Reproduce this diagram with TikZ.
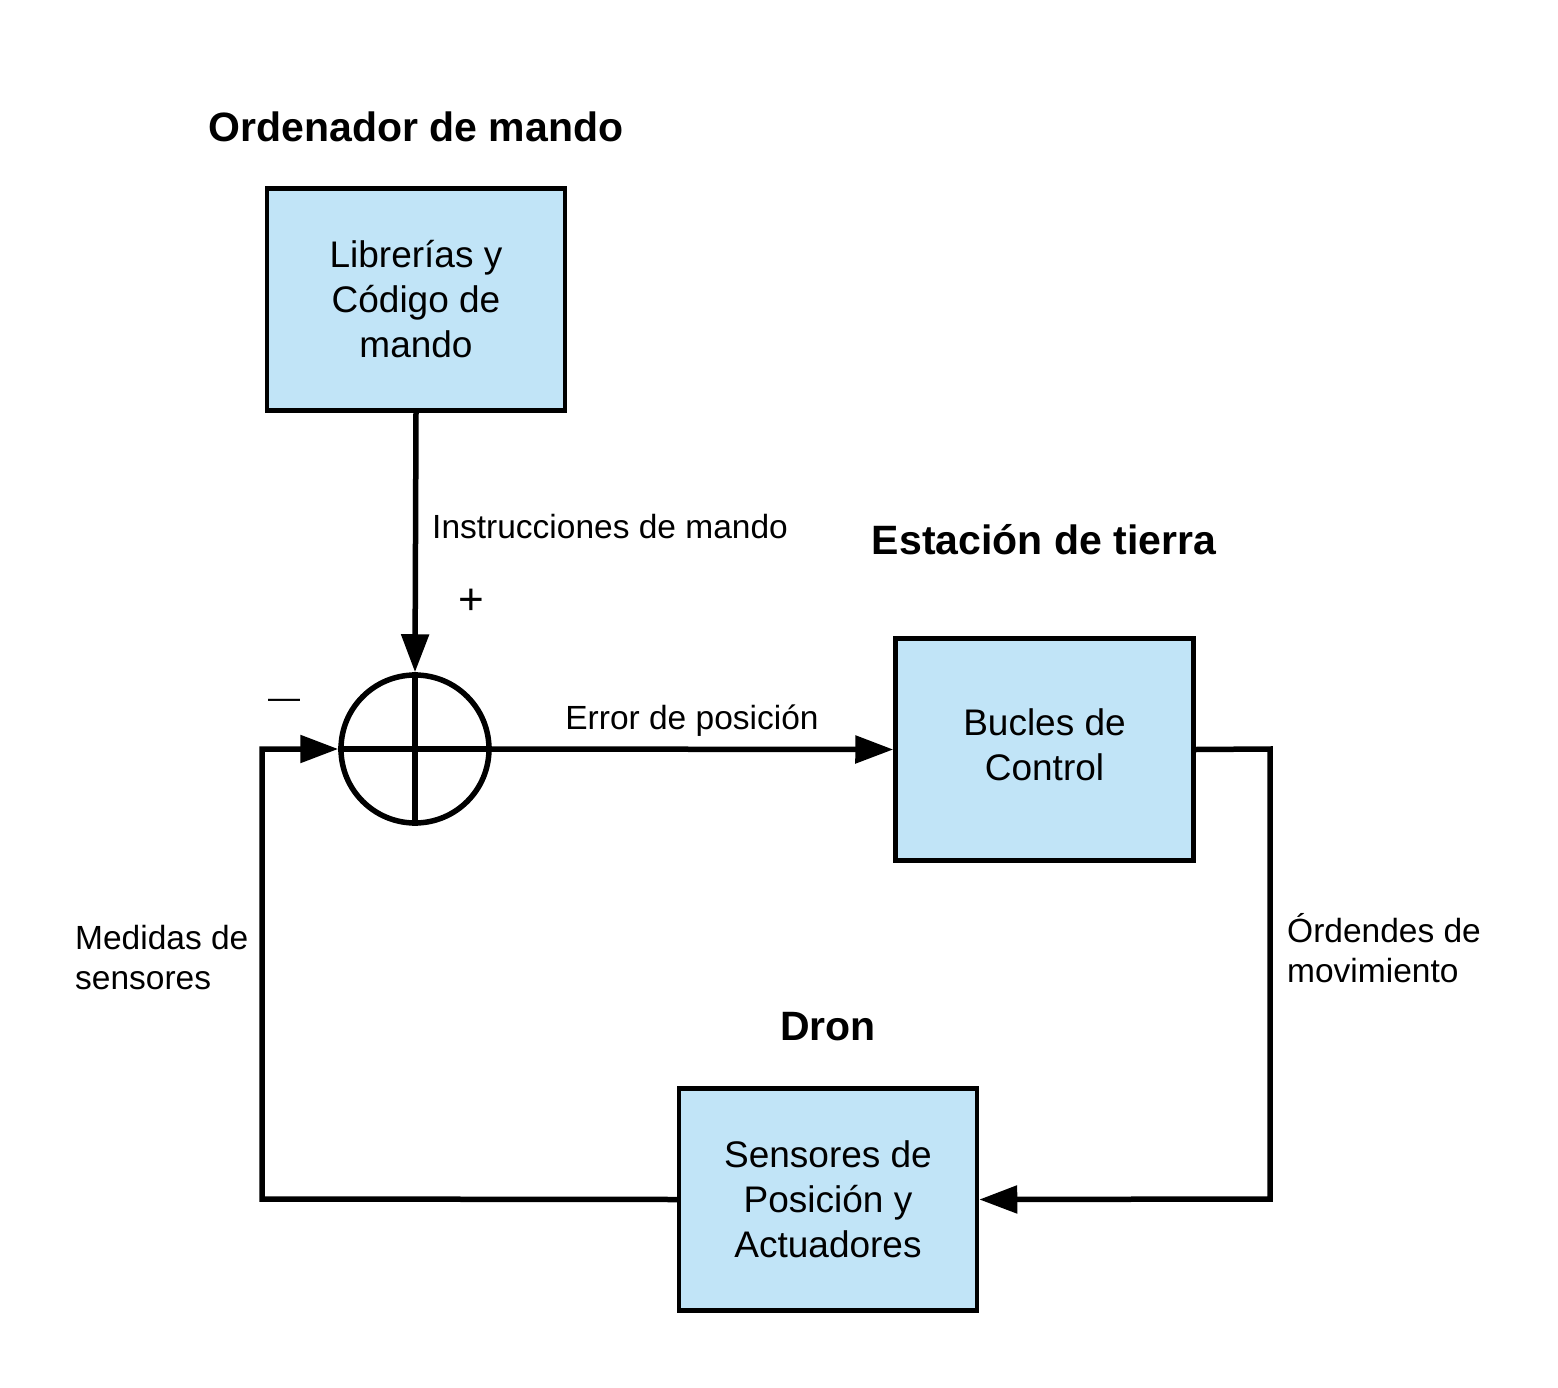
\documentclass[tikz,border=0pt]{standalone}
\usepackage{fontspec}
\setmainfont{Liberation Sans}
\usetikzlibrary{arrows.meta}
\definecolor{boxblue}{HTML}{C1E4F7}
\begin{document}
\begin{tikzpicture}[x=1pt,y=-1pt,
  blk/.style={draw=black,line width=4.5pt,fill=boxblue,minimum width=298pt,minimum height=222pt,inner sep=0pt},
  blktxt/.style={align=center,font=\fontsize{37}{45}\selectfont},
  lbl/.style={font=\fontsize{33.5}{40}\selectfont,align=left,inner sep=0pt},
  ttl/.style={font=\fontsize{41}{48}\selectfont\bfseries,inner sep=0pt},
  conn/.style={line width=5.5pt},
  arr/.style={conn,-{Triangle[length=38pt,width=27pt]}},
  sumc/.style={circle,draw=black,line width=5.5pt,minimum size=148pt,inner sep=0pt}]
\useasboundingbox (0,0) rectangle (1558,1388);
% blocks
\node[blk] (lib) at (416,299.5) {};
\node[blktxt] (libt) at (416,299.5) {Librerías y\\Código de\\mando};
\node[blk] (buc) at (1044.5,749.5) {};
\node[blktxt] (buct) at (1044.5,745) {Bucles de\\Control};
\node[blk] (sen) at (828,1199.5) {};
\node[blktxt] (sent) at (828,1199.5) {Sensores de\\Posición y\\Actuadores};
% summing junction
\node[sumc] (sum) at (415,749) {};
\draw[conn] (sum.north) -- (sum.south);
\draw[conn] (sum.west) -- (sum.east);
% corners
\coordinate (c1) at (1270,749);
\coordinate (c2) at (1270,1199);
\coordinate (c3) at (262,1199);
\coordinate (c4) at (262,749);
% connectors
\draw[arr] (lib.south) -- (sum.north);
\draw[arr] (sum.east) -- (buc.west);
\draw[arr] (buc.east) -- (c1) -- (c2) -- (sen.east);
\draw[arr] (sen.west) -- (c3) -- (c4) -- (sum.west);
% titles
\node[ttl] (t1) at (416,127) {Ordenador de mando};
\node[ttl] (t2) at (1044,540) {Estación de tierra};
\node[ttl] (t3) at (828,1027) {Dron};
% labels
\node[lbl,anchor=west] (l1) at (432,527) {Instrucciones de mando};
\node[lbl] (l2) at (692,721) {Error de posición};
\node[lbl,anchor=west] (l3) at (75,958) {Medidas de\\sensores};
\node[lbl,anchor=west] (l4) at (1287,948) {Órdendes de\\movimiento};
\node[font=\fontsize{44}{48}\selectfont,inner sep=0pt] (plus) at (471,602) {+};
\node[font=\fontsize{32}{40}\selectfont,inner sep=0pt] (minus) at (284,704) {—};
\end{tikzpicture}
\end{document}
